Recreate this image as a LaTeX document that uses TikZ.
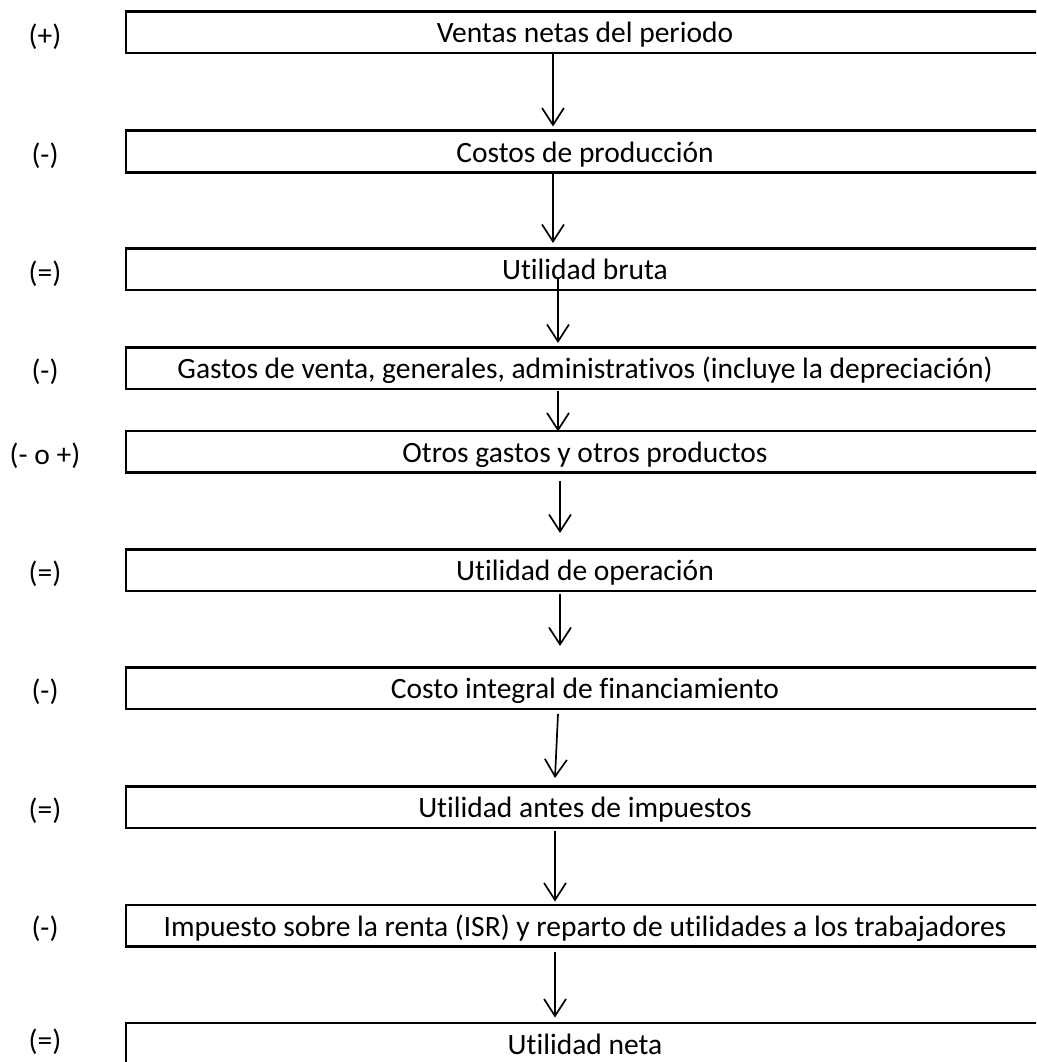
\documentclass[tikz,border=0pt]{standalone}
\usepackage{fontspec}
\setmainfont[Ligatures=NoCommon]{Carlito}
\usetikzlibrary{arrows.meta,calc}
\begin{document}
\begin{tikzpicture}[x=1pt,y=-1pt,
  stepbox/.style={draw,line width=2.5pt,minimum width=918pt,minimum height=41.5pt,inner sep=0pt,text height=21pt,text depth=0pt,font=\fontsize{29.5}{32}\selectfont,anchor=center},
  signlbl/.style={font=\fontsize{29.5}{32}\selectfont,inner sep=0pt,anchor=center},
  flow/.style={line width=1.7pt,-{Straight Barb[length=17pt,width=22pt,line width=1.7pt]}}]
\useasboundingbox (0,0) rectangle (1036,1062);
\clip (0,0) rectangle (1036,1062);
\node[stepbox] (b1) at (585,32.5) {Ventas netas del periodo};
\node[stepbox] (b2) at (585,151.5) {Costos de producción};
\node[stepbox] (b3) at (585,269) {Utilidad bruta};
\node[stepbox] (b4) at (585,368) {Gastos de venta, generales, administrativos (incluye la depreciación)};
\node[stepbox] (b5) at (585,451.5) {Otros gastos y otros productos};
\node[stepbox] (b6) at (585,570) {Utilidad de operación};
\node[stepbox] (b7) at (585,688) {Costo integral de financiamiento};
\node[stepbox] (b8) at (585,807) {Utilidad antes de impuestos};
\node[stepbox] (b9) at (585,925.5) {Impuesto sobre la renta (ISR) y reparto de utilidades a los trabajadores};
\node[stepbox] (b10) at (585,1043.5) {Utilidad neta};
\node[signlbl] (s1) at (45,37) {(+)};
\node[signlbl] (s2) at (45,156) {(-)};
\node[signlbl] (s3) at (45,274) {(=)};
\node[signlbl] (s4) at (45,372) {(-)};
\node[signlbl] (s5) at (45,456) {(- o +)};
\node[signlbl] (s6) at (45,574) {(=)};
\node[signlbl] (s7) at (45,692) {(-)};
\node[signlbl] (s8) at (45,811) {(=)};
\node[signlbl] (s9) at (45,929) {(-)};
\node[signlbl] (s10) at (45,1042) {(=)};
\draw[flow] ($(b1.south)+(-32,0)$) -- ($(b2.north)+(-32,-3)$);
\draw[flow] ($(b2.south)+(-32,0)$) -- ($(b3.north)+(-32,-4)$);
\draw[flow] ($(b3.south)+(-27,-12)$) -- ($(b4.north)+(-27,-3)$);
\draw[flow] ($(b4.south)+(-27,1)$) -- ($(b5.north)+(-27,2)$);
\draw[flow] ($(b5.south)+(-25,7)$) -- ($(b6.north)+(-25,-15)$);
\draw[flow] ($(b6.south)+(-25,2)$) -- ($(b7.north)+(-25,-20)$);
\draw[flow] ($(b7.south)+(-27,4)$) -- ($(b8.north)+(-30,-7)$);
\draw[flow] ($(b8.south)+(-30,2)$) -- ($(b9.north)+(-30,-2)$);
\draw[flow] ($(b9.south)+(-30,4)$) -- ($(b10.north)+(-30,-4)$);
\end{tikzpicture}
\end{document}
